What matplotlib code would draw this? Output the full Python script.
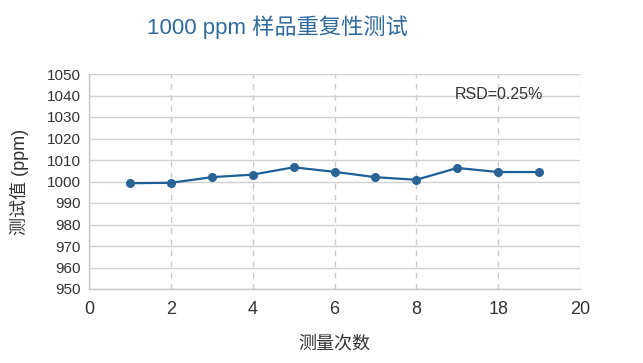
import matplotlib
matplotlib.use("Agg")
import matplotlib.pyplot as plt

plt.rcParams['font.family'] = ['Liberation Sans', 'Noto Sans CJK SC', 'DejaVu Sans']

x_pos = [1, 2, 3, 4, 5, 6, 7, 8, 9, 10, 11]
values = [999.2, 999.4, 1002.0, 1003.2, 1006.6, 1004.5, 1002.0, 1000.8, 1006.3, 1004.4, 1004.4]
xtick_pos = [0, 2, 4, 6, 8, 10, 12]
xtick_labels = ['0', '2', '4', '6', '8', '18', '20']
yticks = list(range(950, 1051, 10))

title = '1000 ppm 样品重复性测试'
xlabel = '测量次数'
ylabel = '测试值 (ppm)'
note = 'RSD=0.25%'

fig = plt.figure(figsize=(6.43, 3.63), dpi=100)
ax = fig.add_axes([89/643, 1-289/363, (580-89)/643, (289-74)/363])

ax.set_xlim(0, 12)
ax.set_ylim(950, 1050)
ax.set_yticks(yticks)
ax.set_xticks(xtick_pos)
ax.set_xticklabels(xtick_labels)

ax.grid(axis='y', color='#d0d0d0', linewidth=1.0, linestyle='-')
ax.grid(axis='x', color='#c8c8c8', linewidth=1.0, linestyle=(0, (4, 4)))
ax.set_axisbelow(True)

for s in ['top', 'right']:
    ax.spines[s].set_visible(False)
for s in ['left', 'bottom']:
    ax.spines[s].set_color('#c8c8c8')
    ax.spines[s].set_linewidth(1.0)

ax.tick_params(axis='y', length=0, labelsize=11, colors='#333333', pad=6)
ax.tick_params(axis='x', length=0, labelsize=13, colors='#333333', pad=9)

ax.plot(x_pos, values, color='#1d5f99', linewidth=1.6, marker='o', markersize=5.5,
        markerfacecolor='#2a6396', markeredgecolor='#2a6396')

ax.text(0.745, 0.905, note, transform=ax.transAxes, fontsize=11.5, color='#333333', ha='left', va='center')

ax.set_xlabel(xlabel, fontsize=13, color='#333333', labelpad=12)
ax.set_ylabel(ylabel, fontsize=13, color='#333333', labelpad=13)

fig.text(277/643, 1-27/363, title, fontsize=16, color='#2f6a9e', ha='center', va='center')

fig.savefig('out.png', dpi=100, facecolor='white')
